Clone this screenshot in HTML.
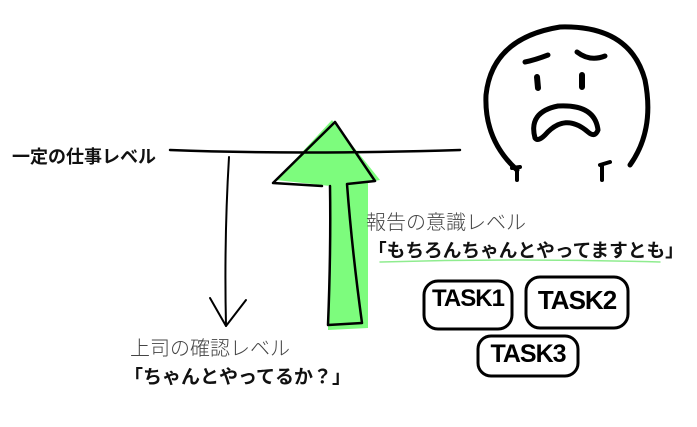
<!DOCTYPE html>
<html><head><meta charset="utf-8"><style>
body{margin:0;width:697px;height:427px;background:#fff;overflow:hidden;position:relative;font-family:"Liberation Sans","Noto Sans CJK JP",sans-serif}
.t{position:absolute;white-space:nowrap}
.g{color:#444;font-size:20px;font-weight:300}
.b{font-weight:bold;color:#111}
</style></head><body>
<svg width="697" height="427" style="position:absolute;left:0;top:0" fill="none" stroke="#000" stroke-linecap="round" stroke-linejoin="round">
<path d="M276,180 L332,120 L380,180 L368,182 L368,328 L328,330 L330,186 Z" fill="#7dfc7d" stroke="none"/>
<path d="M170,150 Q300,155 460,150" stroke-width="2.5"/>
<path d="M229,157 Q224,240 226,326" stroke-width="2"/>
<path d="M210,298 L226,326 L246,300" stroke-width="2"/>
<path d="M322,186 L273,183 L335,122 L375,181 L347,184 Q352,250 362,323 L328,325 Q331,250 330,186" stroke-width="2.5"/>
<path d="M380,262 Q520,258 660,262" stroke="#8fec8f" stroke-width="1.5"/>
<rect x="424" y="281" width="88" height="48" rx="14" stroke-width="3"/>
<rect x="526" y="277" width="102" height="51" rx="14" stroke-width="3"/>
<rect x="478" y="336" width="100" height="40" rx="13" stroke-width="3"/>
<path d="M517,170 Q484,140 486,95 Q492,38 560,27 Q630,25 645,80 Q655,130 630,165" stroke-width="5"/>
<path d="M517,170 L517,180 M512,168 L520,167 M602,166 L602,180 M600,165 L610,162" stroke-width="4"/>
<path d="M525,62 Q535,60 548,55 M577,52 Q590,62 605,56" stroke-width="5"/>
<path d="M537,77 L538,88 M582,75 L582,87" stroke-width="6"/>
<path d="M535,138 Q528,112 558,106 Q595,104 598,130 Q595,138 588,132 Q565,112 545,135 Q538,142 535,138 Z" stroke-width="5"/>
</svg>
<div class="t b" style="left:12px;top:143px;font-size:18px">一定の仕事レベル</div>
<div class="t g" style="left:130px;top:332px">上司の確認レベル</div>
<div class="t b" style="left:124px;top:362px;font-size:19px">「ちゃんとやってるか？」</div>
<div class="t g" style="left:366px;top:206px">報告の意識レベル</div>
<div class="t b" style="left:368px;top:236px;font-size:18.7px">「もちろんちゃんとやってますとも」</div>
<div class="t" style="left:424px;top:285px;width:88px;text-align:center;font-weight:bold;font-size:24px;letter-spacing:-1px">TASK1</div>
<div class="t" style="left:526px;top:285px;width:102px;text-align:center;font-weight:bold;font-size:26px;letter-spacing:-1px">TASK2</div>
<div class="t" style="left:478px;top:340px;width:100px;text-align:center;font-weight:bold;font-size:25px;letter-spacing:-1px">TASK3</div>
</body></html>
